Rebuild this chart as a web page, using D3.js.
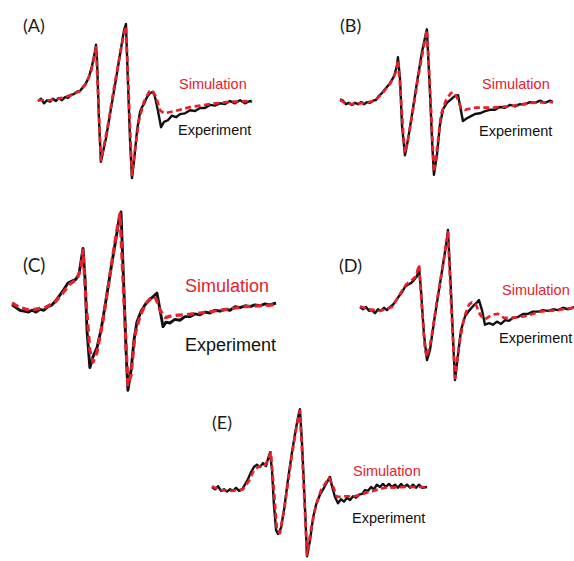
<!DOCTYPE html>
<html lang="en">
<head>
  <meta charset="UTF-8">
  <title>EPR spectra: simulation vs experiment</title>
  <script src="https://d3js.org/d3.v7.min.js"></script>
  <style>
    body { margin: 0; background: #ffffff; }
    svg { display: block; background: #ffffff; }
    .panel-label { font-family: "Lato", "Open Sans", sans-serif; fill: #1a1a1a; }
    .key { font-family: "Liberation Sans", Arial, sans-serif; }
    .exp { fill: none; stroke: #111111; stroke-linejoin: round; }
    .sim { fill: none; stroke: #e3222b; stroke-linejoin: round; }
  </style>
</head>
<body>
  <svg width="574" height="561"></svg>
  <script>
    // spectra: [field (a.u., 0-100), signal (normalised, main peak = 100)]
    const simA = [[0,1],[5.6,1],[11.2,4],[15.9,8],[19.6,13],[22.4,22],[24.8,38],[26.6,61],[27.1,70],[28,14],[29.4,-77],[30.4,-64],[32.7,-31],[35.5,17],[38.3,60],[40.2,88],[41.1,97],[42.5,1],[43.9,-96],[45.3,-64],[47.2,-25],[49.5,-1],[51.9,12],[53.3,14],[55.1,6],[57,-12],[58.9,-16],[64,-13],[71,-8],[80.4,-4],[89.7,-1],[100,0]];
    const expA = [[0,0],[1.4,3],[2.8,-3],[4.2,1],[5.6,-1],[7,3],[8.4,0],[9.8,4],[11.2,1],[12.6,5],[14,4],[15.4,8],[16.8,9],[18.2,12],[19.6,13],[21,18],[22.4,23],[23.8,31],[25.2,45],[26.6,64],[27.1,73],[27.6,53],[28.5,-25],[29.4,-79],[30.4,-66],[31.8,-48],[33.6,-18],[36,21],[38.3,60],[40.2,92],[41.1,100],[42,27],[43,-51],[43.9,-100],[44.9,-77],[46.3,-38],[47.7,-14],[48.6,-8],[49.5,-4],[50.9,5],[52.3,10],[53.7,12],[54.7,5],[56,-12],[57.5,-34],[58.9,-27],[60.7,-25],[62.6,-19],[64.5,-21],[66.4,-17],[68.7,-16],[71,-12],[73.4,-13],[75.7,-9],[78,-9],[80.4,-5],[82.7,-6],[85,-3],[87.4,-4],[89.7,0],[92,-3],[94.4,1],[96.7,-3],[99,0],[100,-1]];

    const simB = [[0,0],[2.3,-4],[5.6,-6],[11.7,-4],[16.4,-1],[19.7,9],[23.5,23],[26.3,40],[27.2,57],[28.2,21],[29.6,-43],[30.5,-76],[31.9,-57],[34.3,-14],[36.6,31],[39,71],[40.8,100],[42.3,14],[44.1,-103],[45.5,-71],[47.4,-21],[49.8,0],[52.1,10],[53.5,11],[54.9,4],[56.8,-11],[58.7,-14],[63.4,-11],[70.4,-11],[79.8,-9],[89.2,-4],[100,-3]];
    const expB = [[0,1],[1.4,-1],[2.8,-6],[4.2,-4],[5.6,-7],[7,-4],[8.5,-6],[9.9,-3],[11.3,-6],[12.7,-3],[14.1,-4],[15.5,-1],[16.9,0],[18.3,6],[19.7,10],[21.6,17],[23.5,24],[25.4,34],[26.8,50],[27.2,61],[28.2,29],[29.1,-36],[30.5,-79],[31.9,-57],[33.8,-21],[36.2,26],[38.5,69],[40.4,96],[40.8,101],[42.3,7],[43.2,-57],[44.1,-107],[45.5,-79],[46.9,-36],[48.4,-13],[50.2,-4],[52.1,1],[54,6],[55.4,7],[56.3,-7],[57.7,-30],[59.6,-26],[61.5,-23],[63.4,-20],[65.7,-19],[68.1,-16],[70.4,-14],[72.8,-14],[75.1,-10],[77.5,-11],[79.8,-7],[82.2,-9],[84.5,-6],[86.9,-6],[89.2,-3],[91.5,-4],[93.9,-1],[96.2,-4],[98.6,-1],[100,-3]];

    const simC = [[0,0],[3,-5],[6.8,-8],[12.5,-5],[16.3,1],[19.3,11],[22,21],[24.6,26],[26.1,38],[26.9,58],[28,3],[29.5,-52],[30.7,-65],[32.2,-54],[34.5,-19],[37.1,31],[39.4,75],[40.9,98],[42.4,3],[43.9,-90],[45.1,-79],[46.6,-35],[48.5,-14],[50.8,0],[53,7],[54.5,5],[56.1,-8],[58,-16],[60.6,-14],[65.5,-13],[71.2,-11],[78.8,-8],[88.3,-4],[100,-2]];
    const expC = [[0,-2],[1.5,-5],[3,-8],[4.5,-9],[6.1,-10],[7.6,-8],[9.1,-10],[10.6,-7],[12.1,-8],[13.6,-4],[15.2,-2],[16.7,3],[18.2,9],[19.7,15],[21.2,22],[22.7,24],[24.2,26],[25.4,32],[26.1,45],[26.9,60],[27.7,25],[28.4,-30],[29.5,-71],[30.7,-59],[32.2,-49],[33.7,-30],[35.6,3],[37.5,38],[39.4,71],[40.5,91],[41.3,100],[42.4,14],[43.2,-52],[43.9,-96],[45.1,-74],[46.2,-41],[47.3,-21],[48.9,-9],[50.4,-2],[52.3,4],[53.8,8],[54.9,11],[56.1,-8],[57.2,-26],[58.3,-21],[59.8,-22],[61.7,-18],[63.6,-19],[65.5,-15],[67.4,-15],[69.3,-12],[71.2,-13],[73.1,-10],[75,-11],[76.9,-8],[78.8,-9],[80.7,-7],[82.6,-8],[84.5,-4],[86.4,-5],[88.3,-3],[90.2,-4],[92,-2],[93.9,-3],[95.8,-1],[97.7,-2],[100,0]];

    const simD = [[0,1],[3.7,-3],[9.3,-5],[15,0],[18.7,17],[21.5,29],[24.3,35],[26.2,40],[27.6,55],[29,-4],[30.4,-56],[31.3,-65],[33.2,-43],[36,9],[38.8,55],[41.1,97],[42.5,9],[44.4,-92],[46.3,-49],[48.6,-14],[50.9,3],[52.3,6],[54.2,3],[56.1,-10],[58.4,-16],[61.7,-10],[64.5,-9],[67.3,-14],[71,-14],[77.1,-12],[84.1,-6],[92.1,-4],[100,-1]];
    const expD = [[0,0],[1.4,-3],[2.8,0],[4.2,-5],[5.6,-4],[7,-8],[8.4,-3],[9.8,-5],[11.2,-1],[12.6,-4],[14,0],[15.4,3],[16.8,8],[18.2,14],[19.6,19],[21,26],[22.4,29],[23.8,31],[25.2,35],[26.6,40],[27.6,51],[28.5,22],[29.9,-36],[31.3,-69],[32.7,-56],[34.6,-19],[36.9,22],[39.3,64],[40.7,90],[41.1,100],[42.5,22],[43.5,-43],[44.4,-95],[45.8,-62],[47.2,-30],[49.1,-12],[50.9,-5],[52.8,1],[54.7,6],[55.6,9],[57,-4],[58.4,-23],[60.3,-21],[62.1,-23],[64,-19],[65.9,-22],[67.8,-17],[69.6,-18],[71.5,-14],[73.8,-13],[76.2,-9],[78.5,-9],[80.8,-6],[83.2,-6],[85.5,-4],[87.9,-5],[90.2,-3],[92.5,-4],[94.9,-1],[97.2,-3],[100,0]];

    const simE = [[0,1],[3.7,-4],[9.3,-5],[14.4,-3],[17.2,8],[19.5,22],[21.9,27],[24.2,26],[26,35],[27.4,45],[28.8,-4],[30.2,-56],[31.6,-60],[33.9,-23],[37.2,42],[39.5,81],[40.9,99],[42.3,22],[44.2,-88],[46,-56],[48.4,-23],[50.7,-4],[53,6],[54.4,12],[56.3,1],[58.1,-13],[62,-12],[66.5,-12],[73.5,-6],[80.5,-1],[89.8,0],[100,0]];
    const expE = [[0,0],[1.4,-3],[2.8,1],[4.2,-5],[5.6,-3],[7,-6],[8.4,-3],[9.8,-5],[11.2,-1],[12.6,-5],[14,-3],[15.3,3],[16.7,10],[18.1,19],[19.5,26],[20.9,29],[22.3,26],[23.7,31],[25.1,27],[26,36],[27,45],[27.9,22],[28.8,-23],[29.8,-56],[30.7,-61],[32.1,-53],[33.5,-30],[35.3,9],[37.2,45],[39.1,77],[40.5,97],[40.9,101],[41.9,55],[43.3,-30],[44.2,-90],[45.6,-69],[47,-40],[48.4,-23],[50.2,-10],[52.1,-1],[54,9],[54.9,13],[55.8,1],[57.2,-13],[58.6,-21],[60,-16],[61.4,-19],[62.8,-14],[64.2,-17],[65.6,-12],[67,-14],[68.4,-10],[69.8,-9],[71.2,-4],[72.6,-5],[74,0],[75.3,-3],[76.7,3],[78.1,0],[79.5,4],[80.9,0],[82.3,4],[83.7,0],[85.1,3],[86.5,-1],[87.9,4],[89.3,0],[90.7,3],[92.1,-1],[93.5,3],[94.9,-1],[96.3,3],[97.7,-1],[100,0]];

    const panelNames = ["(A)", "(B)", "(C)", "(D)", "(E)"];
    const simSeries = [simA, simB, simC, simD, simE];
    const expSeries = [expA, expB, expC, expD, expE];

    // layout of each panel on the page (C is drawn a bit larger in the original)
    const layout = [
      { x0: 38,  x1: 252, base: 101, amp: 77, lw: 1,    lab: [23, 32, 18],  sim: [179, 89, 14.5],  exp: [178, 135, 14.5] },
      { x0: 340, x1: 553, base: 100, amp: 70, lw: 1,    lab: [340, 32, 18], sim: [482, 89, 14.5],  exp: [479, 136, 14.5] },
      { x0: 12,  x1: 276, base: 303, amp: 91, lw: 1.2,  lab: [23, 272, 19], sim: [185, 292, 18],   exp: [185, 351, 18] },
      { x0: 360, x1: 574, base: 307, amp: 77, lw: 1,    lab: [339, 272, 18], sim: [502, 295, 14.5], exp: [499, 343, 14.5] },
      { x0: 212, x1: 427, base: 487, amp: 77, lw: 1,    lab: [212, 429, 18], sim: [353, 476, 14.5], exp: [352, 523, 14.5] }
    ];

    const svg = d3.select("svg");

    panelNames.forEach((name, i) => {
      const p = layout[i];
      const g = svg.append("g").attr("class", "panel");

      const x = d3.scaleLinear().domain([0, 100]).range([p.x0, p.x1]);
      const y = d3.scaleLinear().domain([-100, 100]).range([p.base + p.amp, p.base - p.amp]);

      const line = d3.line()
        .x(d => x(d[0]))
        .y(d => y(d[1]));

      // experiment underneath, simulation dashed on top
      g.append("path").datum(expSeries[i])
        .attr("class", "exp")
        .attr("stroke-width", 2.4 * p.lw)
        .attr("d", line);
      g.append("path").datum(simSeries[i])
        .attr("class", "sim")
        .attr("stroke-width", 2.7 * p.lw)
        .attr("stroke-dasharray", `${6 * p.lw} ${3.5 * p.lw}`)
        .attr("d", line);

      g.append("text")
        .attr("class", "panel-label")
        .attr("x", p.lab[0]).attr("y", p.lab[1])
        .style("font-size", p.lab[2] + "px")
        .text(name);

      g.append("text")
        .attr("class", "key")
        .attr("x", p.sim[0]).attr("y", p.sim[1])
        .style("font-size", p.sim[2] + "px")
        .style("fill", "#e3222b")
        .text("Simulation");

      g.append("text")
        .attr("class", "key")
        .attr("x", p.exp[0]).attr("y", p.exp[1])
        .style("font-size", p.exp[2] + "px")
        .style("fill", "#111111")
        .text("Experiment");
    });
  </script>
</body>
</html>
